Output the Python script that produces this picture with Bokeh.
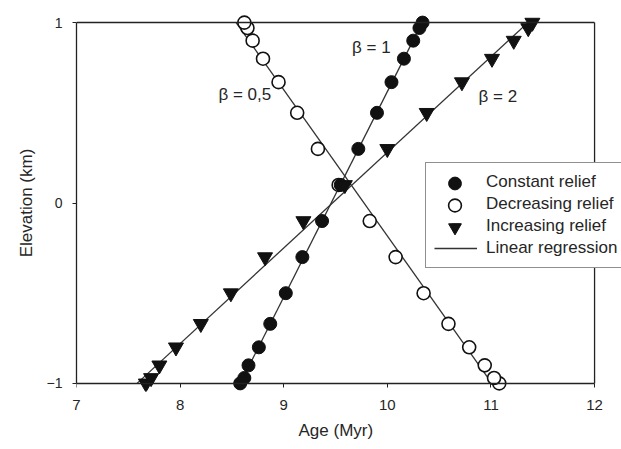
import numpy as np
from bokeh.plotting import figure
from bokeh.models import Range1d, FixedTicker, LinearAxis, Legend, LegendItem, Title
from bokeh.core.properties import value
from bokeh.embed import file_html
from bokeh.resources import INLINE

# ---- data ----
elevation = [-1.0, -0.97, -0.9, -0.8, -0.67, -0.5, -0.3, -0.1,
             0.1, 0.3, 0.5, 0.67, 0.8, 0.9, 0.97, 1.0]
age_constant = [8.58, 8.62, 8.66, 8.76, 8.87, 9.02, 9.18, 9.37,
                9.55, 9.72, 9.90, 10.04, 10.16, 10.25, 10.31, 10.34]
age_decreasing = [11.08, 11.03, 10.94, 10.79, 10.59, 10.35, 10.08, 9.83,
                  9.53, 9.33, 9.13, 8.95, 8.80, 8.70, 8.65, 8.62]
age_increasing = [7.67, 7.72, 7.80, 7.96, 8.20, 8.49, 8.82, 9.19,
                  9.59, 10.00, 10.38, 10.72, 11.01, 11.22, 11.36, 11.40]
x_ticks = [7, 8, 9, 10, 11, 12]
y_ticks = [-1, 0, 1]
beta_labels = ["β = 0,5", "β = 1", "β = 2"]
beta_x = [8.37, 9.66, 10.88]
beta_y = [0.60, 0.86, 0.59]
series_names = ["Constant relief", "Decreasing relief", "Increasing relief", "Linear regression"]
x_title = "Age (Myr)"
y_title = "Elevation (km)"

FONT = "Liberation Sans"
TXT = "#262626"
LINE = "#222222"

# the frame runs past x=12 so that the legend can overhang the box as in the reference
p = figure(width=621, height=449,
           x_range=Range1d(7, 12.26), y_range=Range1d(-1.045, 1.045),
           output_backend="svg", toolbar_location=None,
           min_border_left=76, min_border_right=0,
           min_border_top=14, min_border_bottom=58)
p.outline_line_color = None
p.grid.visible = False

# bottom axis: tick labels only (at frame bottom)
xa = p.xaxis[0]
xa.ticker = FixedTicker(ticks=x_ticks)
xa.bounds = (x_ticks[0], x_ticks[-1])
xa.axis_line_color = None
xa.major_tick_line_color = None
xa.minor_tick_line_color = None
xa.major_tick_in = 0
xa.major_tick_out = 0
xa.major_label_text_font = FONT
xa.major_label_text_font_size = "15px"
xa.major_label_text_color = TXT
xa.major_label_standoff = 8

# bottom axis line + ticks at elevation -1
xl = LinearAxis(ticker=FixedTicker(ticks=x_ticks), fixed_location=y_ticks[0],
                bounds=(x_ticks[0], x_ticks[-1]),
                major_tick_in=0, major_tick_out=4,
                minor_tick_in=0, minor_tick_out=0,
                axis_line_color=LINE, axis_line_width=1.3,
                major_tick_line_color=LINE, major_label_text_alpha=0,
                major_label_text_font_size="1px")
p.add_layout(xl, "below")

# x-axis title, centred under the 7..12 box
p.add_layout(Title(text=x_title, align="left", offset=222, standoff=12,
                   text_font=FONT, text_font_size="17px",
                   text_font_style="normal", text_color=TXT), "below")

# left axis
ya = p.yaxis[0]
ya.ticker = FixedTicker(ticks=y_ticks)
ya.bounds = (y_ticks[0], y_ticks[-1])
ya.major_tick_in = 0
ya.major_tick_out = 4
ya.minor_tick_line_color = None
ya.axis_line_color = LINE
ya.axis_line_width = 1.3
ya.major_tick_line_color = LINE
ya.major_label_text_font = FONT
ya.major_label_text_font_size = "14px"
ya.major_label_text_color = TXT
ya.major_label_standoff = 10
ya.axis_label = y_title
ya.axis_label_text_font = FONT
ya.axis_label_text_font_size = "17px"
ya.axis_label_text_font_style = "normal"
ya.axis_label_text_color = TXT
ya.axis_label_standoff = 8

# top edge of the box
ta = LinearAxis(ticker=FixedTicker(ticks=[]), bounds=(x_ticks[0], x_ticks[-1]),
                fixed_location=y_ticks[-1],
                major_tick_in=0, major_tick_out=0,
                minor_tick_in=0, minor_tick_out=0,
                axis_line_color=LINE, axis_line_width=1.3)
p.add_layout(ta, "above")
# right edge of the box
p.segment(x0=[x_ticks[-1]], y0=[y_ticks[0]], x1=[x_ticks[-1]], y1=[y_ticks[-1]],
          line_color=LINE, line_width=1.3)

# regression lines
reg_renderers = []
e = np.array(elevation)
ends = [float(e.min()), float(e.max())]
for ages in (age_constant, age_decreasing, age_increasing):
    b, a = np.polyfit(e, np.array(ages), 1)
    r = p.line(x=[a + b * ends[0], a + b * ends[1]], y=ends,
               line_color="#333333", line_width=1.3)
    reg_renderers.append(r)

# points
r_dec = p.scatter(age_decreasing, elevation, marker="circle", size=13,
                  fill_color="white", line_color="#111111", line_width=1.6)
r_con = p.scatter(age_constant, elevation, marker="circle", size=13,
                  fill_color="#111111", line_color="#111111", line_width=1)
r_inc = p.scatter(age_increasing, elevation, marker="inverted_triangle", size=15,
                  fill_color="#111111", line_color="#111111", line_width=1)

# beta labels
p.text(x=beta_x, y=beta_y, text=beta_labels, text_font=value(FONT),
       text_font_size="17px", text_baseline="middle", text_align="left",
       text_color=TXT)

legend = Legend(items=[
    LegendItem(label=series_names[0], renderers=[r_con]),
    LegendItem(label=series_names[1], renderers=[r_dec]),
    LegendItem(label=series_names[2], renderers=[r_inc]),
    LegendItem(label=series_names[3], renderers=[reg_renderers[0]]),
], location=(349, 123), glyph_width=43, glyph_height=22, spacing=0,
    padding=8, label_standoff=9, label_height=22, margin=0,
    label_text_font=FONT, label_text_font_size="17px", label_text_color=TXT,
    border_line_color=LINE, border_line_width=1.3,
    background_fill_color="white", background_fill_alpha=1.0)
p.add_layout(legend)

# larger legend markers, laid over the legend's own glyphs
for rend, yloc in ((r_con, 192), (r_dec, 170), (r_inc, 148)):
    big = Legend(items=[LegendItem(label=" ", renderers=[rend])],
                 location=(357, yloc), glyph_width=43, glyph_height=32,
                 padding=0, spacing=0, label_standoff=0, label_height=32,
                 margin=0, border_line_color=None, background_fill_alpha=0,
                 label_text_font_size="1px")
    p.add_layout(big)

open("out.html", "w").write(file_html(p, INLINE))
